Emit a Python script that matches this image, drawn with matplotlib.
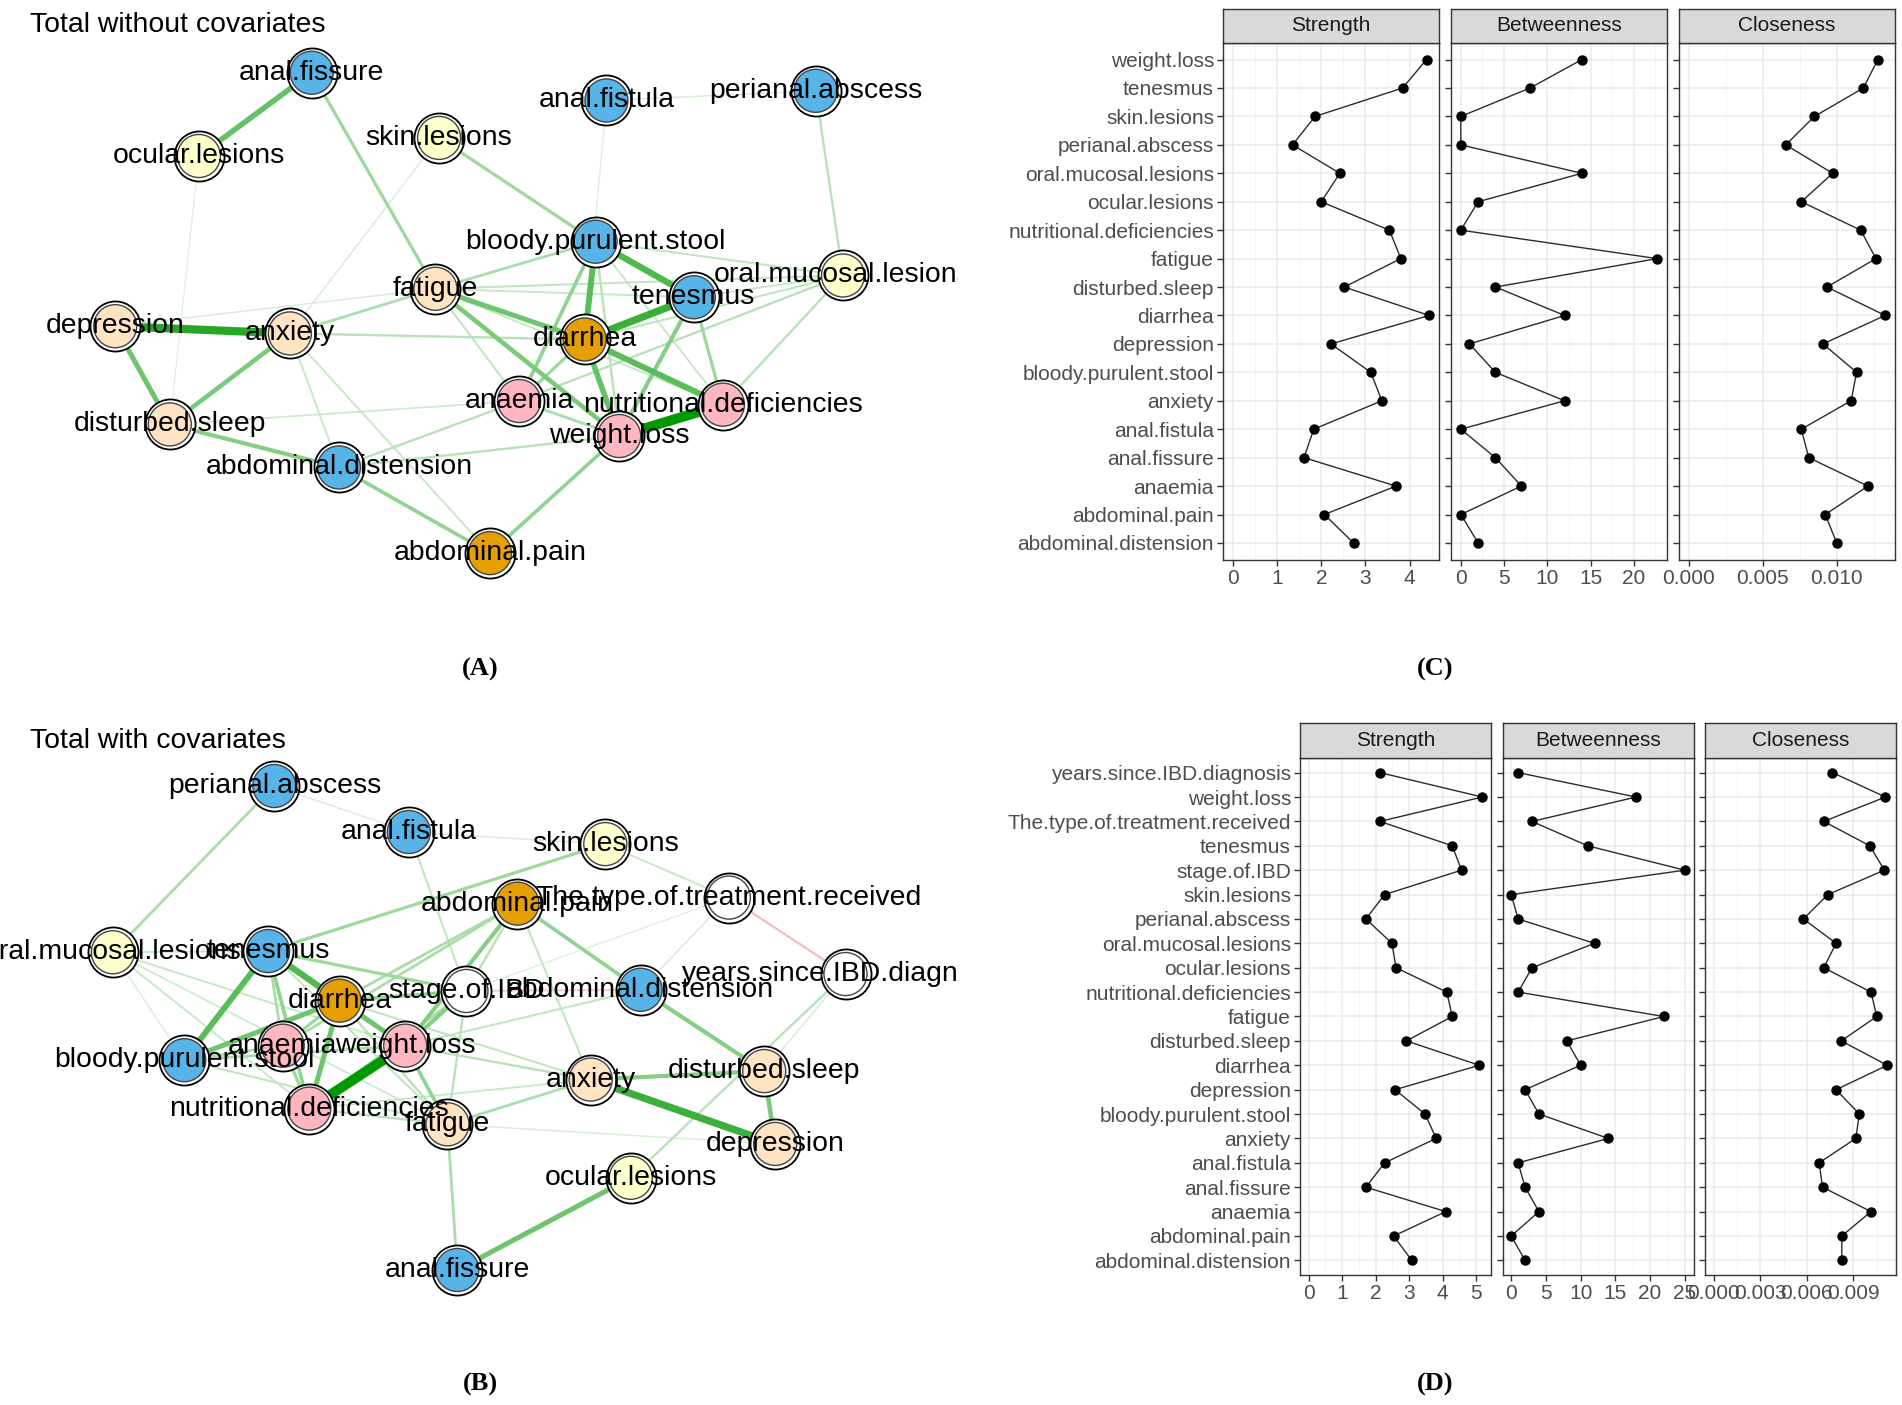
import numpy as np
import matplotlib
matplotlib.use("Agg")
import matplotlib.pyplot as plt
from matplotlib.ticker import MultipleLocator, FuncFormatter

plt.rcParams['font.family'] = ['Liberation Sans', 'DejaVu Sans']

# ---------------------------------------------------------------- data
group_colors = {
    "gi": "#56B4E9", "core": "#E69F00", "skin": "#FFFFCC",
    "psy": "#FFE4C4", "nutr": "#FFB6C1", "cov": "#FFFFFF",
}

# Panel A network (layout coordinates in [-1, 1], as produced by the graph layout)
nodes_A = ["anal.fissure", "ocular.lesions", "skin.lesions", "anal.fistula", "perianal.abscess",
           "bloody.purulent.stool", "oral.mucosal.lesions", "fatigue", "tenesmus", "depression",
           "anxiety", "diarrhea", "anaemia", "nutritional.deficiencies", "disturbed.sleep",
           "weight.loss", "abdominal.distension", "abdominal.pain"]
groups_A = ["gi", "skin", "skin", "gi", "gi", "gi", "skin", "psy", "gi", "psy",
            "psy", "core", "nutr", "nutr", "psy", "nutr", "gi", "core"]
layout_A_x = [-0.46, -0.77, -0.11, 0.35, 0.925, 0.32, 1.0, -0.12, 0.59, -1.0,
              -0.52, 0.29, 0.11, 0.67, -0.85, 0.385, -0.385, 0.03]
layout_A_y = [0.99, 0.645, 0.72, 0.875, 0.915, 0.29, 0.15, 0.095, 0.06, -0.06,
              -0.09, -0.115, -0.37, -0.385, -0.467, -0.515, -0.645, -1.0]
edges_A = [
    ("nutritional.deficiencies", "weight.loss", 1.0),
    ("depression", "anxiety", 0.8),
    ("diarrhea", "tenesmus", 0.7),
    ("bloody.purulent.stool", "tenesmus", 0.6),
    ("bloody.purulent.stool", "diarrhea", 0.55),
    ("diarrhea", "nutritional.deficiencies", 0.55),
    ("anal.fissure", "ocular.lesions", 0.5),
    ("diarrhea", "weight.loss", 0.5),
    ("depression", "disturbed.sleep", 0.45),
    ("fatigue", "diarrhea", 0.45),
    ("anxiety", "disturbed.sleep", 0.4),
    ("fatigue", "weight.loss", 0.4),
    ("tenesmus", "weight.loss", 0.35),
    ("disturbed.sleep", "abdominal.distension", 0.35),
    ("bloody.purulent.stool", "anaemia", 0.3),
    ("weight.loss", "abdominal.pain", 0.3),
    ("abdominal.distension", "abdominal.pain", 0.3),
    ("anal.fissure", "fatigue", 0.25),
    ("skin.lesions", "bloody.purulent.stool", 0.25),
    ("tenesmus", "nutritional.deficiencies", 0.25),
    ("diarrhea", "anaemia", 0.25),
    ("fatigue", "bloody.purulent.stool", 0.2),
    ("fatigue", "anxiety", 0.2),
    ("anaemia", "weight.loss", 0.2),
    ("perianal.abscess", "oral.mucosal.lesions", 0.15),
    ("anxiety", "diarrhea", 0.15),
    ("bloody.purulent.stool", "weight.loss", 0.15),
    ("oral.mucosal.lesions", "nutritional.deficiencies", 0.15),
    ("oral.mucosal.lesions", "anaemia", 0.15),
    ("anaemia", "abdominal.distension", 0.15),
    ("weight.loss", "abdominal.distension", 0.15),
    ("fatigue", "anaemia", 0.12),
    ("fatigue", "oral.mucosal.lesions", 0.12),
    ("diarrhea", "oral.mucosal.lesions", 0.12),
    ("bloody.purulent.stool", "oral.mucosal.lesions", 0.12),
    ("anxiety", "abdominal.pain", 0.1),
    ("anxiety", "abdominal.distension", 0.1),
    ("tenesmus", "oral.mucosal.lesions", 0.1),
    ("fatigue", "tenesmus", 0.1),
    ("bloody.purulent.stool", "nutritional.deficiencies", 0.1),
    ("fatigue", "nutritional.deficiencies", 0.1),
    ("disturbed.sleep", "anaemia", 0.08),
    ("anal.fistula", "perianal.abscess", 0.05),
    ("depression", "fatigue", 0.05),
    ("skin.lesions", "anxiety", 0.05),
    ("anal.fistula", "diarrhea", 0.04),
    ("ocular.lesions", "disturbed.sleep", 0.03),
]

# Panel B network
nodes_B = ["perianal.abscess", "anal.fistula", "skin.lesions", "abdominal.pain",
           "The.type.of.treatment.received", "oral.mucosal.lesions", "tenesmus", "stage.of.IBD",
           "abdominal.distension", "years.since.IBD.diagnosis", "diarrhea", "anaemia", "weight.loss",
           "bloody.purulent.stool", "anxiety", "disturbed.sleep", "nutritional.deficiencies",
           "fatigue", "depression", "ocular.lesions", "anal.fissure"]
groups_B = ["gi", "gi", "skin", "core", "cov", "skin", "gi", "cov", "gi", "cov", "core",
            "nutr", "nutr", "gi", "psy", "psy", "nutr", "psy", "psy", "skin", "gi"]
layout_B_x = [-0.567, -0.198, 0.341, 0.10, 0.68, -1.01, -0.584, -0.04, 0.438, 1.0, -0.388,
              -0.544, -0.208, -0.814, 0.301, 0.777, -0.471, -0.092, 0.807, 0.411, -0.065]
layout_B_y = [1.0, 0.81, 0.76, 0.514, 0.539, 0.313, 0.318, 0.153, 0.158, 0.223, 0.113,
              -0.073, -0.073, -0.133, -0.213, -0.178, -0.333, -0.398, -0.479, -0.619, -1.0]
edges_B = [
    ("nutritional.deficiencies", "weight.loss", 1.0),
    ("anxiety", "depression", 0.7),
    ("tenesmus", "diarrhea", 0.6),
    ("tenesmus", "bloody.purulent.stool", 0.55),
    ("bloody.purulent.stool", "diarrhea", 0.45),
    ("diarrhea", "nutritional.deficiencies", 0.45),
    ("diarrhea", "weight.loss", 0.45),
    ("ocular.lesions", "anal.fissure", 0.45),
    ("disturbed.sleep", "depression", 0.4),
    ("anxiety", "disturbed.sleep", 0.35),
    ("abdominal.distension", "disturbed.sleep", 0.35),
    ("abdominal.pain", "weight.loss", 0.35),
    ("stage.of.IBD", "weight.loss", 0.35),
    ("abdominal.pain", "abdominal.distension", 0.3),
    ("fatigue", "weight.loss", 0.3),
    ("tenesmus", "nutritional.deficiencies", 0.3),
    ("diarrhea", "stage.of.IBD", 0.3),
    ("skin.lesions", "tenesmus", 0.25),
    ("tenesmus", "stage.of.IBD", 0.25),
    ("anaemia", "nutritional.deficiencies", 0.25),
    ("diarrhea", "anaemia", 0.25),
    ("perianal.abscess", "oral.mucosal.lesions", 0.2),
    ("fatigue", "anal.fissure", 0.2),
    ("fatigue", "anxiety", 0.2),
    ("tenesmus", "anaemia", 0.2),
    ("bloody.purulent.stool", "anaemia", 0.2),
    ("bloody.purulent.stool", "weight.loss", 0.2),
    ("anaemia", "abdominal.pain", 0.2),
    ("nutritional.deficiencies", "stage.of.IBD", 0.2),
    ("diarrhea", "abdominal.pain", 0.2),
    ("years.since.IBD.diagnosis", "ocular.lesions", 0.15),
    ("abdominal.pain", "stage.of.IBD", 0.15),
    ("fatigue", "nutritional.deficiencies", 0.15),
    ("fatigue", "diarrhea", 0.15),
    ("stage.of.IBD", "fatigue", 0.15),
    ("weight.loss", "anxiety", 0.15),
    ("anal.fistula", "stage.of.IBD", 0.12),
    ("abdominal.pain", "anxiety", 0.12),
    ("fatigue", "tenesmus", 0.12),
    ("bloody.purulent.stool", "fatigue", 0.12),
    ("anxiety", "diarrhea", 0.12),
    ("weight.loss", "abdominal.distension", 0.12),
    ("skin.lesions", "The.type.of.treatment.received", 0.1),
    ("tenesmus", "oral.mucosal.lesions", 0.1),
    ("oral.mucosal.lesions", "weight.loss", 0.1),
    ("oral.mucosal.lesions", "nutritional.deficiencies", 0.1),
    ("anxiety", "nutritional.deficiencies", 0.1),
    ("oral.mucosal.lesions", "fatigue", 0.08),
    ("perianal.abscess", "anal.fistula", 0.05),
    ("anal.fistula", "skin.lesions", 0.05),
    ("years.since.IBD.diagnosis", "disturbed.sleep", 0.05),
    ("oral.mucosal.lesions", "bloody.purulent.stool", 0.05),
    ("depression", "fatigue", 0.05),
    ("The.type.of.treatment.received", "abdominal.distension", 0.05),
    ("The.type.of.treatment.received", "stage.of.IBD", 0.04),
    ("The.type.of.treatment.received", "years.since.IBD.diagnosis", -0.15),
    ("stage.of.IBD", "abdominal.distension", -0.1),
]

# Panel C centrality
cent_nodes_C = ["weight.loss", "tenesmus", "skin.lesions", "perianal.abscess",
                "oral.mucosal.lesions", "ocular.lesions", "nutritional.deficiencies", "fatigue",
                "disturbed.sleep", "diarrhea", "depression", "bloody.purulent.stool", "anxiety",
                "anal.fistula", "anal.fissure", "anaemia", "abdominal.pain", "abdominal.distension"]
strength_C = [4.38, 3.84, 1.86, 1.35, 2.42, 2.00, 3.54, 3.80, 2.52, 4.44, 2.22, 3.12, 3.37,
              1.83, 1.61, 3.69, 2.07, 2.73]
betweenness_C = [14, 8, 0, 0, 14, 2, 0, 22.7, 4, 12, 1, 4, 12, 0, 4, 7, 0, 2]
closeness_C = [0.01278, 0.01181, 0.00849, 0.00656, 0.00973, 0.00761, 0.01162, 0.01266,
               0.00934, 0.01328, 0.00907, 0.01135, 0.01097, 0.00761, 0.00811, 0.01212,
               0.00923, 0.01000]
ticks_C = {"Strength": [0, 1, 2, 3, 4], "Betweenness": [0, 5, 10, 15, 20],
           "Closeness": [0.0, 0.005, 0.010]}

# Panel D centrality
cent_nodes_D = ["years.since.IBD.diagnosis", "weight.loss", "The.type.of.treatment.received",
                "tenesmus", "stage.of.IBD", "skin.lesions", "perianal.abscess",
                "oral.mucosal.lesions", "ocular.lesions", "nutritional.deficiencies", "fatigue",
                "disturbed.sleep", "diarrhea", "depression", "bloody.purulent.stool", "anxiety",
                "anal.fistula", "anal.fissure", "anaemia", "abdominal.pain", "abdominal.distension"]
strength_D = [2.13, 5.19, 2.13, 4.29, 4.57, 2.27, 1.71, 2.49, 2.61, 4.13, 4.29, 2.92, 5.10,
              2.58, 3.48, 3.81, 2.27, 1.71, 4.10, 2.54, 3.08]
betweenness_D = [1, 18, 3, 11, 25, 0, 1, 12, 3, 1, 22, 8, 10, 2, 4, 14, 1, 2, 4, 0, 2]
closeness_D = [0.00765, 0.01106, 0.00709, 0.01005, 0.01099, 0.00735, 0.00578, 0.00788,
               0.00709, 0.01013, 0.01050, 0.00821, 0.01118, 0.00788, 0.00938, 0.00915,
               0.00679, 0.00701, 0.01013, 0.00825, 0.00825]
ticks_D = {"Strength": [0, 1, 2, 3, 4, 5], "Betweenness": [0, 5, 10, 15, 20, 25],
           "Closeness": [0.0, 0.003, 0.006, 0.009]}

# ---------------------------------------------------------------- figure
W, H = 1902, 1405
fig = plt.figure(figsize=(W / 100, H / 100), dpi=100)
fig.patch.set_facecolor("white")

NET_FS = 20.4


def px_axes(x0, y0, x1, y1):
    return fig.add_axes([x0 / W, 1 - y1 / H, (x1 - x0) / W, (y1 - y0) / H])


def edge_style(w):
    a = abs(w)
    t = 0.08 + 0.92 * a ** 0.8
    base = np.array([0.0, 0.6, 0.0]) if w > 0 else np.array([0.85, 0.1, 0.1])
    col = 1 - t * (1 - base)
    lw = 0.7 + 6.5 * a
    return tuple(col), lw


def draw_network(box, cx, cy, hx, hy, names, groups, lx, ly, edges):
    x0, y0, x1, y1 = box
    ax = px_axes(x0, y0, x1, y1)
    ax.set_xlim((x0 - cx) / hx, (x1 - cx) / hx)
    ax.set_ylim((cy - y1) / hy, (cy - y0) / hy)
    ax.set_facecolor("none")
    for s in ax.spines.values():
        s.set_visible(False)
    ax.set_xticks([])
    ax.set_yticks([])
    idx = {n: i for i, n in enumerate(names)}
    for a, b, w in sorted(edges, key=lambda e: abs(e[2])):
        i, j = idx[a], idx[b]
        col, lw = edge_style(w)
        ax.plot([lx[i], lx[j]], [ly[i], ly[j]], color=col, lw=lw,
                solid_capstyle="butt", zorder=1 + abs(w))
    cols = [group_colors[g] for g in groups]
    ax.scatter(lx, ly, s=1300, c="white", edgecolors="black", linewidths=1.3, zorder=5)
    ax.scatter(lx, ly, s=960, c=cols, edgecolors="#444444", linewidths=1.0, zorder=6)
    for i, n in enumerate(names):
        ax.text(lx[i], ly[i], n, fontsize=NET_FS, ha="center", va="center",
                color="black", zorder=7, clip_on=True)
    return ax


draw_network((0, 0, 958, 650), 479.1, 311.7, 363.9, 241.4,
             nodes_A, groups_A, layout_A_x, layout_A_y, edges_A)
draw_network((0, 690, 958, 1345), 481.0, 1028.0, 364.5, 242.0,
             nodes_B, groups_B, layout_B_x, layout_B_y, edges_B)

fig.text(30 / W, 1 - 25 / H, "Total without covariates", fontsize=NET_FS, ha="left", va="center")
fig.text(30 / W, 1 - 741 / H, "Total with covariates", fontsize=NET_FS, ha="left", va="center")

for lab, (x, y) in {"(A)": (480, 669), "(B)": (480, 1384),
                    "(C)": (1435, 669), "(D)": (1435, 1384)}.items():
    fig.text(x / W, 1 - y / H, lab, fontsize=19, fontweight="bold",
             family=["Liberation Serif", "DejaVu Serif"], ha="center", va="center")


def cent_panel(x0, x1, ys0, yp0, yp1, title, labels, vals, ticks, show_y, decimals):
    ax = px_axes(x0, yp0, x1, yp1)
    n = len(labels)
    ypos = np.arange(n)
    vmax = max(vals)
    ax.set_xlim(-0.05 * vmax, 1.05 * vmax)
    ax.set_ylim(n - 1 + 0.6, -0.6)
    ax.set_xticks(ticks)
    step = ticks[1] - ticks[0]
    ax.xaxis.set_minor_locator(MultipleLocator(step / 2))
    if decimals:
        ax.xaxis.set_major_formatter(FuncFormatter(lambda v, p: f"{v:.3f}"))
    else:
        ax.xaxis.set_major_formatter(FuncFormatter(lambda v, p: f"{v:g}"))
    ax.set_yticks(ypos)
    if show_y:
        ax.set_yticklabels(labels)
    else:
        ax.set_yticklabels([])
        ax.tick_params(axis="y", length=0)
    ax.grid(which="major", color="#EBEBEB", lw=1.1, zorder=0)
    ax.grid(which="minor", axis="x", color="#F4F4F4", lw=0.7, zorder=0)
    ax.set_axisbelow(True)
    ax.tick_params(which="minor", length=0)
    ax.tick_params(which="major", length=4, width=1.0, color="#333333",
                   labelcolor="#4D4D4D", labelsize=15, pad=2.5)
    for s in ax.spines.values():
        s.set_color("#333333")
        s.set_linewidth(1.0)
    ax.plot(vals, ypos, color="#2b2b2b", lw=1.0, marker="o", ms=6.5,
            mfc="black", mec="black", zorder=3)
    st = px_axes(x0, ys0, x1, yp0)
    st.set_facecolor("#D9D9D9")
    st.set_xticks([])
    st.set_yticks([])
    for s in st.spines.values():
        s.set_color("#333333")
        s.set_linewidth(1.0)
    st.text(0.5, 0.5, title, transform=st.transAxes, ha="center", va="center",
            fontsize=15, color="#1A1A1A")


def cent_block(xs, ys0, yp0, yp1, labels, s, b, c, ticks):
    for k, (title, vals) in enumerate(zip(["Strength", "Betweenness", "Closeness"], [s, b, c])):
        cent_panel(xs[k][0], xs[k][1], ys0, yp0, yp1, title, labels, vals,
                   ticks[title], k == 0, title == "Closeness")


cent_block([(1223, 1439), (1451, 1667), (1679, 1895)], 8.5, 42.5, 560,
           cent_nodes_C, strength_C, betweenness_C, closeness_C, ticks_C)
cent_block([(1300, 1491), (1502.5, 1693.5), (1705, 1896)], 723, 758, 1275,
           cent_nodes_D, strength_D, betweenness_D, closeness_D, ticks_D)

fig.savefig("out.png", dpi=100, facecolor="white")
